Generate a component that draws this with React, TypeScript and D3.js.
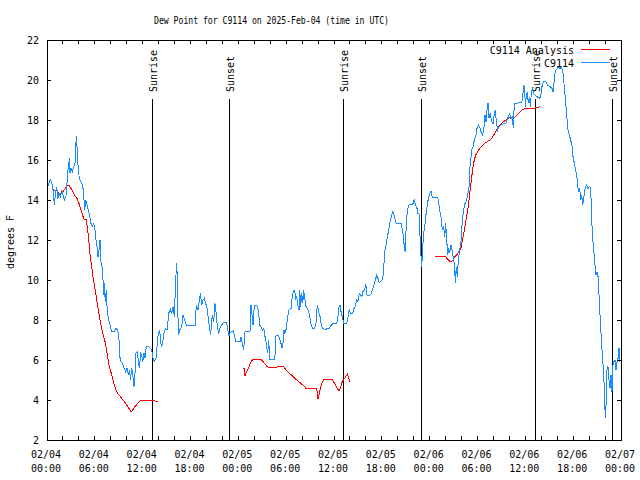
import React from "react";
import * as d3 from "d3";

const TITLE = "Dew Point for C9114 on 2025-Feb-04 (time in UTC)";
const Y_LABEL = "degrees F";
const SERIES_NAMES = ["C9114 Analysis", "C9114"];

const yTicks = [2, 4, 6, 8, 10, 12, 14, 16, 18, 20, 22];
const xTickHours = [0, 6, 12, 18, 24, 30, 36, 42, 48, 54, 60, 66, 72];
const xTickDates = ["02/04", "02/04", "02/04", "02/04", "02/05", "02/05", "02/05", "02/05", "02/06", "02/06", "02/06", "02/06", "02/07"];
const xTickTimes = ["00:00", "06:00", "12:00", "18:00", "00:00", "06:00", "12:00", "18:00", "00:00", "06:00", "12:00", "18:00", "00:00"];
const xMinorHours = d3.range(0, 73, 2);

const sunEventHours = [13.21, 22.87, 37.17, 46.95, 61.25, 70.91];
const sunEventLabels = ["Sunrise", "Sunset", "Sunrise", "Sunset", "Sunrise", "Sunset"];

// hours since 2025-02-04 00:00 UTC, dew point (F)
const stationObs: [number, number][] = [
  [0.16,14.72],[0.41,15.03],[0.59,14.9],[0.75,14.53],[0.92,13.75],[1.09,14.42],[1.22,14.67],[1.34,14.03],[1.51,14.33],[1.67,14.17],
  [1.84,14.42],[2.01,14.25],[2.17,14.0],[2.38,14.2],[2.51,14.83],[2.60,15.42],[2.72,15.67],[2.80,16.08],[2.89,15.33],[3.01,15.58],
  [3.17,15.42],[3.35,15.67],[3.51,15.83],[3.68,17.2],[3.76,16.67],[3.85,15.92],[4.05,15.08],[4.26,14.92],[4.48,14.75],[4.64,14.0],
  [4.73,13.5],[4.85,14.0],[5.02,13.75],[5.18,13.5],[5.36,13.17],[5.52,12.83],[5.68,12.67],[5.86,12.83],[6.02,12.5],[6.11,12.08],
  [6.27,11.67],[6.40,11.17],[6.52,11.5],[6.65,12.0],[6.74,10.92],[6.86,10.83],[6.99,10.33],[7.11,9.25],[7.19,9.83],[7.31,8.92],
  [7.44,9.5],[7.56,8.42],[7.69,8.08],[7.90,7.75],[8.12,7.42],[8.44,7.42],[8.62,7.58],[8.87,7.5],[9.03,7.0],[9.19,5.92],
  [9.45,5.83],[9.70,5.58],[9.87,5.42],[10.04,5.58],[10.20,5.25],[10.37,5.5],[10.45,5.0],[10.62,5.58],[10.79,5.17],[10.91,4.67],
  [11.04,5.33],[11.16,6.33],[11.33,6.42],[11.45,6.0],[11.58,5.58],[11.75,6.33],[11.88,6.25],[12.00,5.92],[12.17,6.33],[12.29,6.08],
  [12.46,6.67],[12.71,6.67],[12.96,6.58],[13.13,6.5],[13.30,6.08],[13.46,5.92],[13.67,6.08],[13.80,6.67],[13.96,7.33],[14.14,7.5],
  [14.26,6.83],[14.39,6.67],[14.55,7.0],[14.71,7.42],[14.89,7.58],[15.05,7.5],[15.14,7.83],[15.30,8.37],
  [15.47,8.53],[15.64,8.33],[15.81,8.67],[15.97,8.17],[16.14,10.0],[16.27,10.83],[16.35,10.0],[16.47,7.25],[16.65,7.5],[16.90,7.67],
  [17.06,8.25],[17.22,8.08],[17.47,7.75],[18.57,7.75],[18.65,8.42],[18.78,8.67],[18.94,8.5],[19.15,9.08],[19.23,9.33],[19.41,8.75],
  [19.57,9.0],[19.73,9.08],[19.91,8.83],[20.07,8.58],[20.23,8.08],[20.41,7.58],[20.53,7.25],[20.66,8.0],[20.79,8.25],[20.91,7.92],
  [21.07,8.83],[21.20,8.42],[21.36,7.67],[21.54,7.33],[21.70,7.58],[21.91,7.75],[22.12,7.87],[22.54,7.87],[22.67,7.5],[22.83,7.2],
  [22.99,7.37],[23.17,7.42],[23.37,7.45],[23.49,7.25],[23.67,6.92],[24.21,6.92],[24.34,7.13],[24.50,6.83],[24.67,6.5],[24.84,7.42],
  [25.46,7.42],[25.59,8.75],[25.72,8.25],[25.84,7.75],[25.97,8.5],[26.09,8.75],[26.31,8.75],[26.51,8.5],[26.68,7.75],[26.84,7.67],
  [27.01,7.5],[27.18,7.58],[27.35,7.17],[27.51,6.83],[27.68,6.33],[27.81,7.0],[27.94,6.03],[28.48,6.03],[28.60,6.25],[28.73,7.25],
  [29.01,7.25],[29.19,7.08],[29.35,6.83],[29.48,6.58],[29.60,6.83],[29.73,7.5],[29.85,7.33],[30.02,7.58],[30.19,8.17],[30.36,8.5],
  [30.61,8.58],[30.77,9.17],[30.95,9.5],[31.07,9.5],[31.20,9.0],[31.32,9.17],[31.49,8.67],[31.61,8.5],[31.70,9.5],[31.82,8.67],
  [31.95,9.33],[32.08,8.83],[32.20,9.5],[32.33,9.08],[32.49,8.67],[32.65,8.58],[32.83,8.42],[32.99,8.08],[33.15,7.75],[33.33,7.58],
  [33.58,7.58],[33.74,7.83],[33.91,8.75],[34.08,8.42],[34.25,8.17],[34.41,7.75],[34.58,7.58],[34.83,7.53],[35.41,7.58],[35.66,7.75],
  [35.91,7.83],[36.34,7.83],[36.50,8.17],[36.63,8.67],[36.75,8.75],[36.88,8.42],[37.04,8.17],[37.22,7.83],[37.59,7.83],[37.76,8.17],
  [37.92,8.5],[38.10,8.33],[38.35,8.33],[38.51,8.58],[38.67,8.67],[38.85,9.0],[39.01,8.92],[39.18,9.33],[39.35,9.25],[39.51,9.17],
  [39.68,9.5],[39.85,9.5],[39.98,9.8],[40.14,9.25],[40.52,9.25],[40.68,9.33],[40.86,9.58],[41.02,9.75],[41.18,10.0],[41.36,10.25],
  [41.52,10.08],[41.68,9.87],[41.86,9.92],[42.11,10.03],[42.27,10.83],[42.40,11.5],[42.56,11.83],[42.74,12.25],[42.90,12.58],[43.03,12.92],
  [43.24,13.25],[43.40,13.42],[43.57,13.17],[43.78,12.83],[44.41,12.83],[44.62,12.42],[44.78,11.83],[44.91,11.42],[45.00,12.0],[45.07,12.92],
  [45.25,13.58],[45.45,13.78],[45.79,13.78],[45.95,13.83],[46.07,14.03],[46.20,13.75],[46.38,13.67],[46.50,13.33],[46.66,13.33],[46.79,12.17],
  [46.92,11.17],[47.00,10.67],[47.13,11.67],[47.25,12.33],[47.42,12.83],[47.58,13.42],[47.76,13.92],[48.01,14.33],[48.17,14.42],[48.33,14.13],
  [48.92,14.13],[49.09,14.0],[49.26,13.5],[49.42,13.17],[49.59,12.5],[49.76,12.67],[49.89,12.17],[50.01,12.83],[50.14,12.0],[50.26,11.25],
  [50.39,11.58],[50.51,11.33],[50.68,11.75],[50.80,11.5],[51.02,11.0],[51.14,10.58],[51.22,9.83],[51.34,10.67],[51.47,10.17],[51.59,11.0],
  [51.77,11.5],[51.93,11.92],[52.10,13.0],[52.27,13.5],[52.43,13.83],[52.60,13.92],[52.77,14.25],[52.94,14.67],[53.03,15.5],[53.15,16.0],
  [53.28,16.5],[53.44,16.67],[53.60,17.0],[53.78,17.17],[53.94,17.58],[54.10,17.75],[54.28,17.67],[54.44,17.42],[54.61,17.25],[54.78,17.5],
  [54.94,18.25],[55.07,17.92],[55.19,18.5],[55.32,18.83],[55.44,18.08],[55.61,18.33],[55.78,17.92],[55.95,17.83],[56.11,18.33],[56.24,18.5],
  [56.36,17.92],[56.54,17.5],[56.70,17.67],[56.95,17.75],[57.29,17.83],[57.54,17.83],[57.70,18.0],[57.87,18.17],[58.04,18.3],[58.20,18.08],
  [58.37,18.17],[58.49,17.58],[58.62,18.83],[59.55,18.87],[59.67,19.17],[59.80,19.75],[59.92,19.5],[60.00,18.67],[60.12,19.17],[60.25,19.42],
  [60.37,18.83],[60.50,19.17],[60.63,18.67],[60.75,19.33],[60.88,19.58],[61.05,19.33],[61.22,19.25],[61.47,19.17],[61.75,19.08],[61.93,19.17],
  [62.09,19.67],[62.26,19.92],[62.59,19.92],[62.76,19.75],[63.10,19.67],[63.35,19.58],[63.51,19.38],[63.69,20.33],[63.85,20.5],[64.01,20.58],
  [64.19,20.67],[64.35,20.58],[64.51,20.62],[64.69,20.5],[64.85,19.83],[65.02,19.08],[65.19,18.25],[65.35,17.5],[65.52,17.25],[65.69,17.0],
  [65.86,16.67],[65.94,16.25],[66.11,15.92],[66.27,15.58],[66.45,15.25],[66.57,14.67],[66.70,14.42],[66.82,14.58],[66.95,14.0],[67.07,14.25],
  [67.20,13.75],[67.32,14.08],[67.45,14.5],[67.57,14.67],[67.70,14.75],[67.86,14.58],[68.03,14.67],[68.20,14.62],[68.33,12.92],[68.45,12.08],
  [68.62,11.33],[68.74,10.75],[68.87,10.25],[68.99,10.42],[69.12,10.17],[69.24,9.25],[69.37,8.25],[69.53,7.08],[69.66,6.25],[69.78,5.58],
  [69.91,4.58],[70.03,3.08],[70.12,3.75],[70.25,5.58],[70.37,5.67],[70.50,5.0],[70.62,4.58],[70.75,5.25],[70.87,4.42],[71.00,5.75],
  [71.12,5.92],[71.25,6.0],[71.38,5.5],[71.50,5.92],[71.63,6.08],[71.75,6.58],[71.84,5.92],
];

// analysis series; null marks a gap in the data
const analysisObs: [number, number | null][] = [
  [0.66,14.53],[0.92,14.5],[1.25,14.45],[1.51,14.33],[1.76,14.3],[2.01,14.42],[2.26,14.55],[2.51,14.72],[2.76,14.75],[3.01,14.58],
  [3.26,14.42],[3.51,14.2],[3.76,14.08],[4.01,13.83],[4.26,13.5],[4.52,13.17],[4.68,13.03],[4.93,13.03],[5.11,12.5],[5.27,11.83],
  [5.43,11.17],[5.61,10.67],[5.77,10.17],[5.93,9.75],[6.11,9.33],[6.27,8.92],[6.44,8.5],[6.61,8.08],[6.77,7.75],[6.94,7.42],
  [7.11,7.17],[7.28,6.92],[7.44,6.58],[7.61,6.17],[7.78,5.75],[7.94,5.5],[8.12,5.25],[8.28,5.0],[8.44,4.75],[8.62,4.53],
  [8.87,4.33],[9.19,4.17],[9.53,4.0],[9.87,3.83],[10.20,3.63],[10.54,3.42],[10.70,3.47],[10.95,3.63],[11.20,3.75],[11.45,3.87],
  [11.70,3.95],[12.13,3.97],[12.63,3.97],[13.13,3.98],[13.55,3.95],[13.96,3.93],
  [19.0,null],
  [24.71,5.58],[24.84,5.2],[25.00,5.37],[25.18,5.5],[25.34,5.67],[25.50,5.83],[25.75,6.0],[26.09,6.03],[26.51,6.05],[26.84,6.03],
  [27.10,5.92],[27.35,5.8],[27.60,5.67],[27.85,5.62],[28.19,5.62],[28.60,5.63],[29.01,5.67],[29.69,5.67],[29.94,5.53],[30.19,5.42],
  [30.44,5.33],[30.70,5.23],[30.95,5.13],[31.32,5.0],[31.74,4.87],[32.15,4.73],[32.49,4.58],[33.83,4.58],[33.99,4.03],[34.16,4.33],
  [34.33,4.67],[34.50,4.87],[34.66,5.0],[34.91,5.03],[35.34,5.05],[35.75,5.03],[36.00,4.87],[36.25,4.7],[36.50,4.53],[36.67,4.47],
  [36.84,4.67],[37.00,4.87],[37.17,5.0],[37.42,5.13],[37.67,5.28],[37.85,5.08],[37.97,4.92],
  [43.0,null],
  [48.67,11.2],[49.93,11.2],[50.18,11.08],[50.43,10.97],[50.68,10.9],[50.93,11.0],[51.18,11.17],[51.43,11.28],[51.68,11.42],[51.93,11.62],
  [52.10,12.0],[52.27,12.33],[52.43,12.67],[52.60,13.08],[52.77,13.5],[52.94,14.0],[53.10,14.58],[53.28,15.17],[53.44,15.67],[53.60,16.0],
  [53.78,16.25],[54.03,16.42],[54.28,16.58],[54.53,16.7],[54.78,16.8],[55.03,16.87],[55.28,16.93],[55.53,17.0],[55.78,17.08],[56.03,17.25],
  [56.28,17.42],[56.54,17.58],[56.79,17.75],[57.04,17.83],[57.29,17.92],[57.54,18.0],[57.79,18.08],[58.12,18.13],[58.46,18.08],[58.79,18.17],
  [59.12,18.3],[59.37,18.42],[59.62,18.53],[59.96,18.57],[60.80,18.58],[61.22,18.6],[61.63,18.63],[61.84,18.67],
];

const W = 640;
const H = 480;
const PL = 47;
const PR = 621;
const PT = 40;
const PB = 440;

const RED = "#ff0000";
const BLUE = "#1a8cff";
const FONT = "'DejaVu Sans Mono', 'Liberation Mono', monospace";

export default function App() {
  const x = d3.scaleLinear().domain([0, 72]).range([PL, PR]);
  const y = d3.scaleLinear().domain([2, 22]).range([PB, PT]);

  const blueLine = d3
    .line<[number, number]>()
    .x((d) => x(d[0]))
    .y((d) => y(d[1]));

  const redLine = d3
    .line<[number, number | null]>()
    .defined((d) => d[1] !== null)
    .x((d) => x(d[0]))
    .y((d) => y(d[1] as number));

  const tickLen = 4;

  return (
    <svg
      width={W}
      height={H}
      viewBox={`0 0 ${W} ${H}`}
      style={{ position: "absolute", left: 0, top: 0, background: "#fff" }}
      fontFamily={FONT}
      fontSize={10}
    >
      <rect x={0} y={0} width={W} height={H} fill="#fff" />

      {/* title */}
      <text x={154} y={24} textLength={235} lengthAdjust="spacingAndGlyphs" fill="#000">
        {TITLE}
      </text>

      {/* y label */}
      <text transform="translate(14,242) rotate(-90)" textAnchor="middle" fill="#000">
        {Y_LABEL}
      </text>

      {/* sun event lines */}
      {sunEventHours.map((t, i) => (
        <g key={"sun" + i}>
          <line x1={x(t)} x2={x(t)} y1={99} y2={PB} stroke="#000" strokeWidth={1} shapeRendering="crispEdges" />
          <text transform={`translate(${x(t) + 4.5},92) rotate(-90)`} textAnchor="start" fill="#000">
            {sunEventLabels[i]}
          </text>
        </g>
      ))}

      {/* data */}
      <path d={redLine(analysisObs) || ""} fill="none" stroke={RED} strokeWidth={1} shapeRendering="crispEdges" />
      <path d={blueLine(stationObs) || ""} fill="none" stroke={BLUE} strokeWidth={1} shapeRendering="crispEdges" />

      {/* frame */}
      <rect x={PL} y={PT} width={PR - PL} height={PB - PT} fill="none" stroke="#000" strokeWidth={1} shapeRendering="crispEdges" />

      {/* y ticks */}
      {yTicks.map((v) => (
        <g key={"y" + v}>
          <line x1={PL} x2={PL + tickLen} y1={y(v)} y2={y(v)} stroke="#000" shapeRendering="crispEdges" />
          <line x1={PR} x2={PR - tickLen} y1={y(v)} y2={y(v)} stroke="#000" shapeRendering="crispEdges" />
          <text x={39} y={y(v)} dy="0.36em" textAnchor="end" fill="#000">
            {v}
          </text>
        </g>
      ))}

      {/* x ticks */}
      {xMinorHours.map((h) => (
        <g key={"xm" + h}>
          <line x1={x(h)} x2={x(h)} y1={PB} y2={PB - tickLen} stroke="#000" shapeRendering="crispEdges" />
          <line x1={x(h)} x2={x(h)} y1={PT} y2={PT + tickLen} stroke="#000" shapeRendering="crispEdges" />
        </g>
      ))}
      {xTickHours.map((h, i) => (
        <g key={"x" + h}>
          <text x={x(h) - 1} y={458} textAnchor="middle" fill="#000">
            {xTickDates[i]}
          </text>
          <text x={x(h) - 1} y={472} textAnchor="middle" fill="#000">
            {xTickTimes[i]}
          </text>
        </g>
      ))}

      {/* legend */}
      <text x={574} y={54} textAnchor="end" fill="#000">
        {SERIES_NAMES[0]}
      </text>
      <line x1={581} x2={610} y1={49.5} y2={49.5} stroke={RED} shapeRendering="crispEdges" />
      <text x={574} y={66.5} textAnchor="end" fill="#000">
        {SERIES_NAMES[1]}
      </text>
      <line x1={581} x2={610} y1={62.5} y2={62.5} stroke={BLUE} shapeRendering="crispEdges" />
    </svg>
  );
}
